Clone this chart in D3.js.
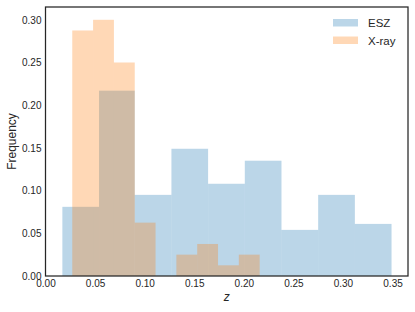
<!DOCTYPE html>
<html>
<head>
<meta charset="utf-8">
<script src="https://cdn.jsdelivr.net/npm/d3@7"></script>
<style>
    body { margin: 0; background: #fff; }
    text { font-family: "Liberation Sans", Arial, sans-serif; fill: #262626; }
</style>
</head>
<body>
<div id="chart"></div>
<script>
// Bin edges and normalised frequencies
const eszEdges = [0.017, 0.054, 0.090, 0.127, 0.164, 0.201, 0.238, 0.275, 0.312, 0.349];
const eszFreq = [0.081, 0.217, 0.095, 0.149, 0.108, 0.135, 0.054, 0.095, 0.061];

const xrayEdges = [0.027, 0.048, 0.069, 0.090, 0.111, 0.132, 0.153, 0.174, 0.195, 0.216];
const xrayFreq = [0.2875, 0.300, 0.250, 0.0625, 0.0, 0.025, 0.0375, 0.0125, 0.025];

const xTicks = [0, 0.05, 0.10, 0.15, 0.20, 0.25, 0.30, 0.35];
const yTicks = [0, 0.05, 0.10, 0.15, 0.20, 0.25, 0.30];

const seriesNames = ["ESZ", "X-ray"];
const seriesColors = ["#1f77b4", "#ff7f0e"];

const width = 415, height = 312;
const margin = { top: 7, right: 7, bottom: 36, left: 45.5 };

const svg = d3.select("#chart").append("svg")
    .attr("width", width)
    .attr("height", height);

svg.append("rect").attr("width", width).attr("height", height).attr("fill", "#fff");

// Scales
const x = d3.scaleLinear()
    .domain([0, 0.3656])
    .range([margin.left, width - margin.right]);

const y = d3.scaleLinear()
    .domain([0, 0.315])
    .range([height - margin.bottom, margin.top]);

// Turn edges + frequencies into bar objects
function toBins(edges, freq) {
    return freq.map((f, i) => ({ x0: edges[i], x1: edges[i + 1], f }));
}

const series = [toBins(eszEdges, eszFreq), toBins(xrayEdges, xrayFreq)];

// Draw histograms, ESZ first then X-ray on top
series.forEach((bins, k) => {
    svg.append("g")
        .selectAll("rect")
        .data(bins)
        .enter().append("rect")
        .attr("x", d => x(d.x0))
        .attr("y", d => y(d.f))
        .attr("width", d => x(d.x1) - x(d.x0))
        .attr("height", d => y(0) - y(d.f))
        .attr("fill", seriesColors[k])
        .attr("fill-opacity", 0.3);
});

// Axes (no tick marks, labels only)
const xAxis = svg.append("g")
    .attr("transform", `translate(0,${y(0)})`)
    .call(d3.axisBottom(x).tickValues(xTicks).tickSize(0).tickPadding(3.5).tickFormat(d3.format(".2f")));
xAxis.select(".domain").remove();
xAxis.selectAll("text").style("font-size", "10px").attr("fill", "#262626");

const yAxis = svg.append("g")
    .attr("transform", `translate(${margin.left},0)`)
    .call(d3.axisLeft(y).tickValues(yTicks).tickSize(0).tickPadding(4).tickFormat(d3.format(".2f")));
yAxis.select(".domain").remove();
yAxis.selectAll("text").style("font-size", "10px").attr("fill", "#262626");

// Frame
svg.append("rect")
    .attr("x", x.range()[0])
    .attr("y", y.range()[1])
    .attr("width", x.range()[1] - x.range()[0])
    .attr("height", y.range()[0] - y.range()[1])
    .attr("fill", "none")
    .attr("stroke", "#262626")
    .attr("stroke-width", 1.25);

// Axis titles
svg.append("text")
    .attr("x", (x.range()[0] + x.range()[1]) / 2)
    .attr("y", 301)
    .attr("text-anchor", "middle")
    .style("font-size", "12px")
    .style("font-style", "italic")
    .text("z");

svg.append("text")
    .attr("transform", `translate(16,${(y.range()[0] + y.range()[1]) / 2}) rotate(-90)`)
    .attr("text-anchor", "middle")
    .style("font-size", "12px")
    .text("Frequency");

// Legend
const legend = svg.append("g").attr("transform", "translate(333,19)");
seriesNames.forEach((name, i) => {
    const row = legend.append("g").attr("transform", `translate(0,${i * 17.5})`);
    row.append("rect")
        .attr("width", 25)
        .attr("height", 7.5)
        .attr("fill", seriesColors[i])
        .attr("fill-opacity", 0.3);
    row.append("text")
        .attr("x", 35)
        .attr("y", 8.4)
        .style("font-size", "11.5px")
        .text(name);
});
</script>
</body>
</html>
